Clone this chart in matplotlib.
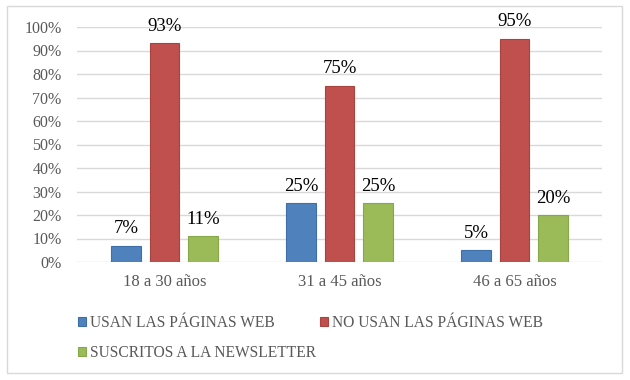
import matplotlib
matplotlib.use("Agg")
import matplotlib.pyplot as plt
from matplotlib.patches import Rectangle
from matplotlib.ticker import PercentFormatter
import numpy as np

categories = ["18 a 30 años", "31 a 45 años", "46 a 65 años"]
series_names = ["USAN LAS PÁGINAS WEB", "NO USAN LAS PÁGINAS WEB", "SUSCRITOS A LA NEWSLETTER"]
usan = [7, 25, 5]
no_usan = [93, 75, 95]
suscritos = [11, 25, 20]
yticks = [0, 10, 20, 30, 40, 50, 60, 70, 80, 90, 100]

colors = ["#4F81BD", "#C0504D", "#9BBB59"]
edges = ["#3F6FA8", "#A94340", "#86A84A"]

plt.rcParams['font.family'] = ['Liberation Serif', 'DejaVu Serif']

fig = plt.figure(figsize=(6.3, 3.8), dpi=100)
ax = fig.add_axes([77/630, 1-262/380, (602-77)/630, (262-27)/380])

x = np.arange(len(categories))
w = 0.171
off = 0.22
handles = []
for i, (vals, name) in enumerate(zip([usan, no_usan, suscritos], series_names)):
    bars = ax.bar(x + (i-1)*off, vals, width=w, color=colors[i], edgecolor=edges[i],
                  linewidth=0.8, label=name, zorder=3)
    ax.bar_label(bars, labels=[f"{v}%" for v in vals], padding=6, fontsize=13.5, color="black")
    handles.append(bars)

ax.set_xlim(-0.5, len(categories)-0.5)
ax.set_ylim(0, 100)
ax.set_yticks(yticks)
ax.yaxis.set_major_formatter(PercentFormatter(decimals=0))
ax.set_xticks(x)
ax.set_xticklabels(categories)
ax.tick_params(axis='y', length=0, pad=11, labelsize=11.5, labelcolor="#595959")
ax.tick_params(axis='x', length=0, pad=9, labelsize=12, labelcolor="#595959")
ax.grid(axis='y', color="#D9D9D9", linewidth=1, zorder=0)
ax.set_axisbelow(True)
for s in ax.spines.values():
    s.set_visible(False)

leg = fig.legend([handles[0], handles[2], handles[1]],
                 [series_names[0], series_names[2], series_names[1]],
                 ncol=2, loc='upper left', bbox_to_anchor=(78/630, 1-315/380),
                 frameon=False, fontsize=11.2, handlelength=0.5, handleheight=0.5,
                 handletextpad=0.25, columnspacing=0.3, labelspacing=0.92,
                 borderpad=0, borderaxespad=0)
for t in leg.get_texts():
    t.set_color("#595959")

fig.patches.append(Rectangle((7/630, 1-373/380), 615/630, 367/380, transform=fig.transFigure,
                             fill=False, edgecolor="#D9D9D9", linewidth=1))

fig.savefig("out.png", dpi=100, facecolor="white")
